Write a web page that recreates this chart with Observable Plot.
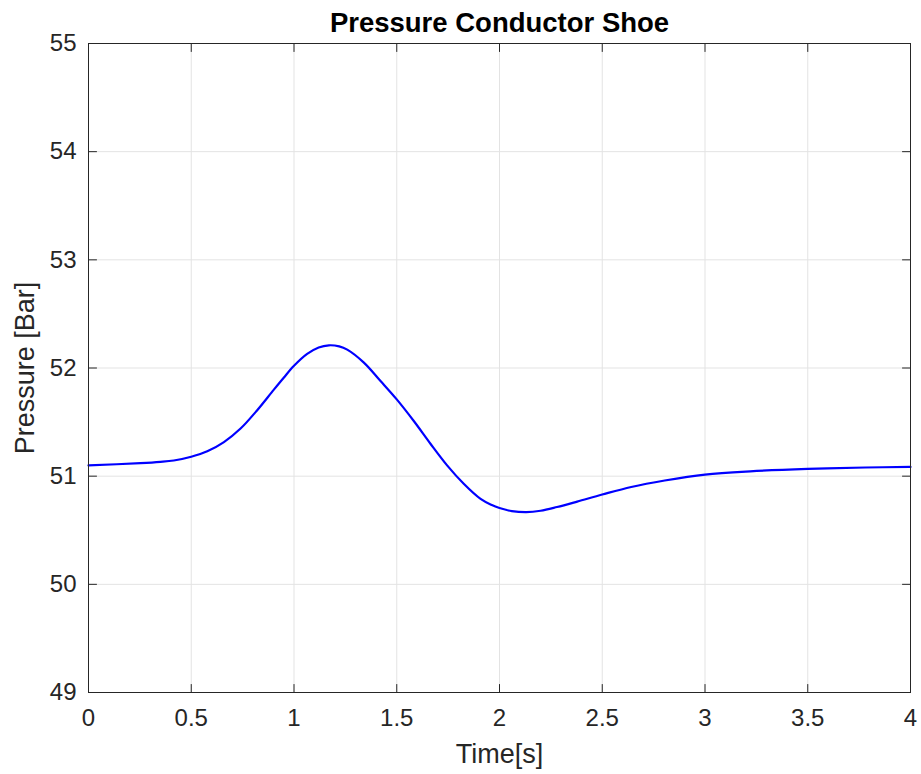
<!DOCTYPE html>
<html>
<head>
<meta charset="utf-8">
<script src="https://cdn.jsdelivr.net/npm/d3@7"></script>
<script src="https://cdn.jsdelivr.net/npm/@observablehq/plot@0.6"></script>
<style>
  html, body { margin: 0; padding: 0; background: #ffffff; }
  #chart { width: 921px; height: 774px; }
</style>
</head>
<body>
<div id="chart"></div>
<script>
const titleText = "Pressure Conductor Shoe";
const xLabel = "Time[s]";
const yLabel = "Pressure [Bar]";

const time = [0, 0.253, 0.35, 0.415, 0.5, 0.578, 0.659, 0.74, 0.821, 0.902, 0.95, 1.0, 1.064, 1.12, 1.17, 1.22, 1.259, 1.34, 1.421, 1.5, 1.583, 1.664, 1.745, 1.826, 1.908, 1.96, 2.0, 2.06, 2.13, 2.2, 2.28, 2.378, 2.5, 2.641, 2.804, 3.0, 3.22, 3.5, 3.78, 4.0];
const pressure = [51.10, 51.12, 51.132, 51.145, 51.18, 51.23, 51.315, 51.44, 51.61, 51.80, 51.91, 52.02, 52.13, 52.19, 52.21, 52.20, 52.17, 52.05, 51.88, 51.71, 51.51, 51.30, 51.10, 50.93, 50.79, 50.735, 50.705, 50.677, 50.667, 50.68, 50.715, 50.765, 50.83, 50.90, 50.96, 51.015, 51.045, 51.067, 51.08, 51.085];

const xTicks = [0, 0.5, 1, 1.5, 2, 2.5, 3, 3.5, 4];
const xTickLabels = ["0", "0.5", "1", "1.5", "2", "2.5", "3", "3.5", "4"];
const yTicks = [49, 50, 51, 52, 53, 54, 55];
const yTickLabels = ["49", "50", "51", "52", "53", "54", "55"];

const data = time.map((t, i) => ({t, p: pressure[i]}));

const tickShape = {draw(ctx, l) { ctx.moveTo(0, 0); ctx.lineTo(0, -l); }};
const axisColor = "#262626";
const gridColor = "#e3e3e3";

const chart = Plot.plot({
  width: 921,
  height: 774,
  marginLeft: 88,
  marginRight: 11,
  marginTop: 43,
  marginBottom: 82,
  style: {fontFamily: "'Liberation Sans', Arial, Helvetica, sans-serif", fontSize: "24px", color: axisColor, background: "#ffffff"},
  x: {domain: [0, 4]},
  y: {domain: [49, 55]},
  marks: [
    Plot.gridX(xTicks, {stroke: gridColor, strokeOpacity: 1}),
    Plot.gridY(yTicks, {stroke: gridColor, strokeOpacity: 1}),
    Plot.axisX(xTicks, {tickSize: 0, tickPadding: 16, fontSize: 24, fill: axisColor, tickFormat: (d) => xTickLabels[xTicks.indexOf(d)], label: null}),
    Plot.axisY(yTicks, {tickSize: 0, tickPadding: 12, fontSize: 24, fill: axisColor, tickFormat: (d) => yTickLabels[yTicks.indexOf(d)], label: null}),
    Plot.vector(xTicks, {x: d => d, frameAnchor: "bottom", rotate: 0, length: 8, anchor: "start", shape: tickShape, stroke: axisColor, strokeWidth: 1}),
    Plot.vector(xTicks, {x: d => d, frameAnchor: "top", rotate: 180, length: 8, anchor: "start", shape: tickShape, stroke: axisColor, strokeWidth: 1}),
    Plot.vector(yTicks, {y: d => d, frameAnchor: "left", rotate: 90, length: 8, anchor: "start", shape: tickShape, stroke: axisColor, strokeWidth: 1}),
    Plot.vector(yTicks, {y: d => d, frameAnchor: "right", rotate: -90, length: 8, anchor: "start", shape: tickShape, stroke: axisColor, strokeWidth: 1}),
    Plot.line(data, {x: "t", y: "p", stroke: "#0000ff", strokeWidth: 2.2, curve: "catmull-rom"}),
    Plot.frame({stroke: axisColor, strokeWidth: 1}),
    Plot.text([titleText], {frameAnchor: "top", dy: -12, lineAnchor: "bottom", fontSize: 27.5, fontWeight: "bold", fill: "#000000"}),
    Plot.text([xLabel], {frameAnchor: "bottom", dy: 70, lineAnchor: "bottom", fontSize: 27, fill: axisColor}),
    Plot.text([yLabel], {frameAnchor: "left", dx: -55, rotate: -90, textAnchor: "middle", lineAnchor: "bottom", fontSize: 27, fill: axisColor})
  ]
});
document.getElementById("chart").appendChild(chart);
</script>
</body>
</html>
